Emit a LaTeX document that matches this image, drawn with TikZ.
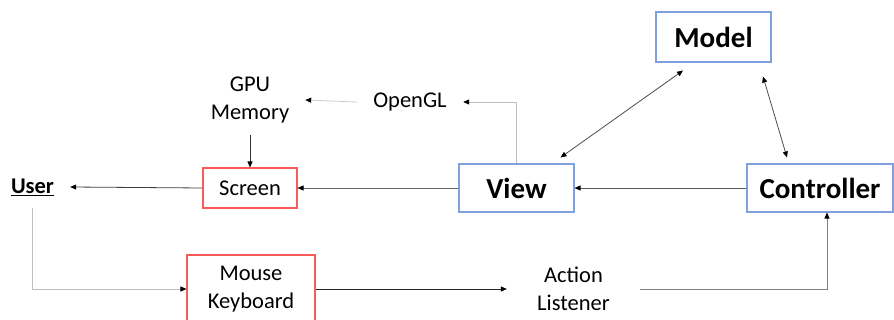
\documentclass[tikz,border=0pt]{standalone}
\usepackage{fontspec}
\setmainfont{Carlito}
\usetikzlibrary{arrows.meta}
\definecolor{boxblue}{RGB}{130,160,222}
\definecolor{boxred}{RGB}{250,90,90}
\begin{document}
\begin{tikzpicture}[x=1pt,y=-1pt,
  mvcbox/.style={draw=boxblue,line width=1.05pt,inner sep=0pt,font=\fontsize{29}{34}\selectfont\bfseries},
  iobox/.style={draw=boxred,line width=1.05pt,inner sep=0pt,align=center,font=\fontsize{22.5}{28}\selectfont},
  plain/.style={inner sep=0pt,align=center,font=\fontsize{22.5}{28}\selectfont},
  tip/.style={-{Triangle[length=6pt,width=5pt,color=black]}},
  dtip/.style={{Triangle[length=6pt,width=5pt,color=black]}-{Triangle[length=6pt,width=5pt,color=black]}},
  conn/.style={line width=0.8pt}]
\useasboundingbox (0,0) rectangle (894,320);

% main blocks
\node[mvcbox,minimum width=115pt,minimum height=50pt] (model) at (713.5,37) {Model};
\node[mvcbox,minimum width=115pt,minimum height=48pt] (view) at (516.5,188) {View};
\node[mvcbox,minimum width=146pt,minimum height=48pt] (ctrl) at (820,188) {Controller};

% devices
\node[iobox,minimum width=94pt,minimum height=40pt] (screen) at (250,188) {Screen};
\node[iobox,minimum width=128pt,minimum height=68pt] (mouse) at (251,289) {Mouse\\Keyboard};

% labels
\node[plain,minimum width=75pt,minimum height=42pt] (user) at (32.5,187) {\bfseries\underline{User}};
\node[plain,minimum width=110pt,minimum height=70pt] (gpu) at (250,100) {GPU\\Memory};
\node[plain,minimum width=106pt] (opengl) at (410,102) {OpenGL};
\node[plain,minimum width=133pt] (action) at (573.5,289) {Action\\Listener};

% rendering path
\draw[conn,tip,color=black!25] (view.north) |- (opengl.east);
\draw[conn,tip,color=black!20] (opengl.west) -- (gpu.east);
\draw[conn,tip,color=black!80] (gpu.south) -- (screen.north);
\draw[conn,tip,color=black!60] (view.west) -- (screen.east);
\draw[conn,tip,color=black!75] (screen.west) -- (user.east);
\draw[conn,tip,color=black!65] (ctrl.west) -- (view.east);

% input path
\draw[conn,tip,color=black!25] (user.south) |- (mouse.west);
\draw[conn,tip,color=black!85] (mouse.east) -- (action.west);
\draw[conn,tip,color=black!50] (action.east) -| (ctrl.south -| 827,0);

% model links
\draw[conn,dtip,color=black!70] ([shift={(-14,-6)}]view.north east) -- ([shift={(-30.5,8)}]model.south);
\draw[conn,dtip,color=black!70] ([shift={(49.5,14)}]model.south) -- ([shift={(-33,-6)}]ctrl.north);
\end{tikzpicture}
\end{document}
